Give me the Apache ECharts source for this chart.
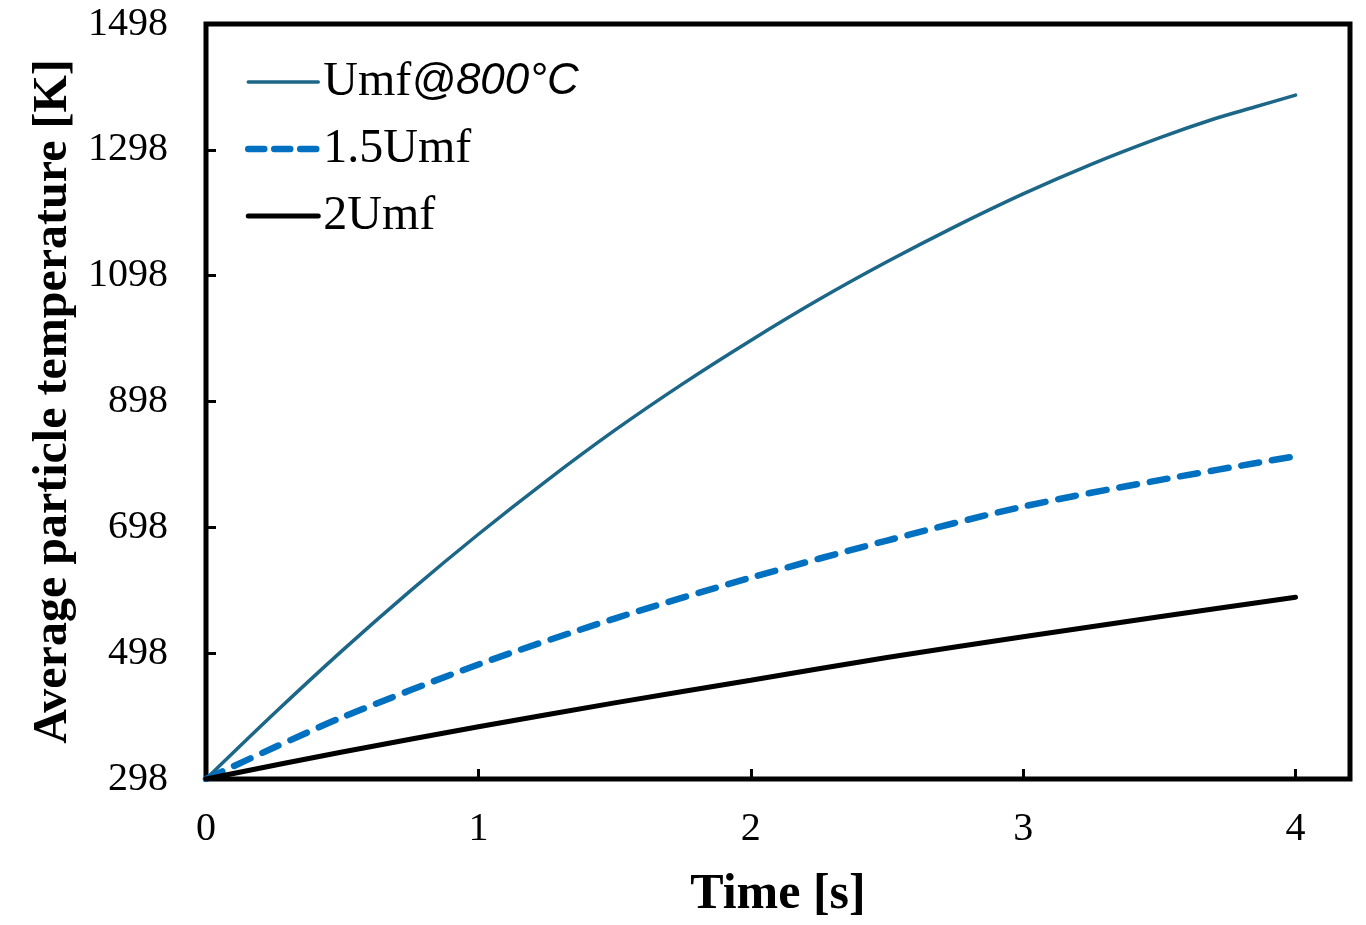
<!DOCTYPE html>
<html>
<head>
<meta charset="utf-8">
<title>Average particle temperature</title>
<script src="https://cdn.jsdelivr.net/npm/echarts@6/dist/echarts.min.js"></script>
<style>
  html, body { margin: 0; padding: 0; background: #fff; }
  #chart { width: 1366px; height: 925px; }
</style>
</head>
<body>
<div id="chart"></div>
<script>
// Time points [s] and particle temperatures [K] for each gas velocity
const timeUmf = [0, 0.25, 0.5, 0.75, 1.0, 1.25, 1.5, 1.75, 2.0, 2.25, 2.5, 2.75, 3.0, 3.25, 3.5, 3.7, 3.85, 4.0];
const tempUmf = [298, 402, 502, 597, 687, 772, 852, 926, 995, 1060, 1120, 1176, 1228, 1275, 1317, 1347, 1366, 1385];

const time15Umf = [0, 0.25, 0.5, 1.0, 1.5, 2.0, 2.5, 3.0, 3.5, 4.0];
const temp15Umf = [298, 348, 396, 480, 553, 618, 677, 731, 773, 811];

const time2Umf = [0, 0.5, 1.0, 1.5, 2.0, 2.5, 3.0, 3.5, 4.0];
const temp2Umf = [298, 341, 381, 419, 455, 491, 524, 556, 587];

const seriesNames = ['Umf@800°C', '1.5Umf', '2Umf'];

// Axis tick labels
const xTickLabels = [0, 1, 2, 3, 4];
const yTickLabels = [298, 498, 698, 898, 1098, 1298, 1498];

const pairs = (xs, ys) => xs.map((x, i) => [x, ys[i]]);

const serif = '"Liberation Serif", "Times New Roman", serif';

// Line styles shared by the series and their legend entries
const styleUmf = { color: '#1c6788', width: 3.5, cap: 'round' };
const style15Umf = { color: '#0070c0', width: 6.5, type: [18, 13], cap: 'round' };
const style2Umf = { color: '#000', width: 5, cap: 'round' };

const chart = echarts.init(document.getElementById('chart'));
chart.setOption({
  animation: false,
  backgroundColor: '#fff',
  grid: {
    left: 206, right: 16, top: 24, bottom: 145,
    show: true, borderColor: '#000', borderWidth: 5, backgroundColor: 'transparent'
  },
  legend: {
    orient: 'vertical',
    left: 245, top: 58, padding: 0,
    itemWidth: 70, itemHeight: 14, itemGap: 19,
    itemStyle: { color: 'transparent', borderColor: 'transparent', borderWidth: 0, opacity: 0 },
    textStyle: {
      fontFamily: serif, fontSize: 48, color: '#000', lineHeight: 48,
      rich: {
        u: { fontFamily: serif, fontSize: 48, color: '#000' },
        c: { fontFamily: '"Liberation Sans", Arial, sans-serif', fontStyle: 'italic', fontSize: 44, color: '#000' }
      }
    },
    formatter: name => {
      const at = name.indexOf('@');
      return at >= 0 ? '{u|' + name.slice(0, at) + '}{c|' + name.slice(at) + '}' : name;
    },
    data: [
      { name: seriesNames[0], lineStyle: styleUmf },
      { name: seriesNames[1], lineStyle: { ...style15Umf, type: [16, 10] } },
      { name: seriesNames[2], lineStyle: style2Umf }
    ]
  },
  xAxis: {
    type: 'value', min: 0, max: 4.2,
    name: 'Time [s]', nameLocation: 'middle', nameGap: 91,
    nameTextStyle: { fontFamily: serif, fontWeight: 'bold', fontSize: 50, color: '#000' },
    axisLine: { show: false },
    splitLine: { show: false },
    axisTick: { show: true, inside: true, length: 10, lineStyle: { color: '#000', width: 3 }, customValues: xTickLabels.slice(1) },
    axisLabel: { fontFamily: serif, fontSize: 40, color: '#000', margin: 30, customValues: xTickLabels, formatter: v => String(v) }
  },
  yAxis: {
    type: 'value', min: 298, max: 1498,
    name: 'Average particle temperature [K]', nameLocation: 'middle', nameGap: 110,
    nameTextStyle: { fontFamily: serif, fontWeight: 'bold', fontSize: 48, color: '#000' },
    axisLine: { show: false },
    splitLine: { show: false },
    axisTick: { show: true, inside: true, length: 10, lineStyle: { color: '#000', width: 3 }, customValues: yTickLabels.slice(1, -1) },
    axisLabel: { fontFamily: serif, fontSize: 40, color: '#000', margin: 38, customValues: yTickLabels, formatter: v => String(v) }
  },
  series: [
    {
      name: seriesNames[0], type: 'line', data: pairs(timeUmf, tempUmf),
      showSymbol: false, symbol: 'none', smooth: 0.3,
      lineStyle: styleUmf, itemStyle: { color: styleUmf.color }
    },
    {
      name: seriesNames[1], type: 'line', data: pairs(time15Umf, temp15Umf),
      showSymbol: false, symbol: 'none', smooth: 0.3,
      lineStyle: style15Umf, itemStyle: { color: style15Umf.color }
    },
    {
      name: seriesNames[2], type: 'line', data: pairs(time2Umf, temp2Umf),
      showSymbol: false, symbol: 'none', smooth: 0.3,
      lineStyle: style2Umf, itemStyle: { color: style2Umf.color }
    }
  ]
});
</script>
</body>
</html>
